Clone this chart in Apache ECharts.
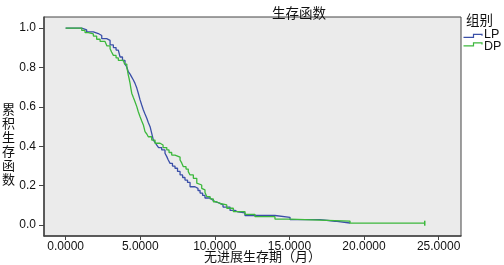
<!DOCTYPE html>
<html><head><meta charset="utf-8">
<script src="https://cdn.jsdelivr.net/npm/echarts@6/dist/echarts.min.js"></script>
<style>html,body{margin:0;padding:0;background:#fff}#c{width:504px;height:265px}</style>
</head><body><div id="c"></div>
<script>
// LP group: [time (months), cumulative survival]
const lpTimes = [0,1.08,1.41,1.86,2.19,2.42,2.75,2.98,3.20,3.38,3.53,3.65,3.81,3.98,4.10,4.20,4.32,4.43,4.54,4.65,4.77,4.87,4.99,5.10,5.21,5.32,5.44,5.54,5.66,5.77,5.88,5.99,6.11,6.23,6.44,6.66,6.78,6.88,7.00,7.16,7.33,7.50,7.67,7.84,8.00,8.17,8.34,8.67,8.87,9.01,9.18,9.34,9.68,9.85,10.01,10.28,10.55,11.02,11.35,11.55,12.02,14.03,15.04,17.05,18.06,19.06];
const lpSurv  = [1,0.991,0.980,0.972,0.962,0.946,0.937,0.914,0.901,0.888,0.878,0.853,0.835,0.817,0.802,0.778,0.766,0.751,0.736,0.719,0.695,0.669,0.635,0.609,0.584,0.563,0.542,0.520,0.499,0.465,0.431,0.419,0.406,0.393,0.381,0.364,0.347,0.330,0.313,0.299,0.288,0.272,0.254,0.241,0.228,0.216,0.194,0.186,0.175,0.162,0.150,0.137,0.127,0.119,0.112,0.102,0.091,0.074,0.066,0.061,0.048,0.039,0.027,0.019,0.010,0.010];
// DP group
const dpTimes = [0,1.08,1.30,1.52,1.86,2.08,2.31,2.64,2.77,2.98,3.08,3.20,3.38,3.53,3.87,3.95,4.10,4.15,4.20,4.25,4.32,4.37,4.43,4.54,4.65,4.77,4.87,4.99,5.10,5.21,5.32,5.44,5.54,5.77,5.99,6.33,6.53,6.78,6.93,7.11,7.33,7.67,7.78,7.89,8.07,8.22,8.34,8.56,8.79,8.89,9.12,9.23,9.34,9.46,9.68,9.90,10.11,10.35,10.80,11.24,12.02,12.69,14.03,15.04,19.06,24.07];
const dpSurv  = [1,0.988,0.977,0.970,0.959,0.943,0.932,0.924,0.909,0.895,0.878,0.861,0.848,0.836,0.830,0.817,0.799,0.782,0.761,0.745,0.719,0.695,0.669,0.647,0.626,0.601,0.575,0.550,0.528,0.508,0.474,0.462,0.448,0.431,0.415,0.406,0.393,0.381,0.368,0.355,0.345,0.330,0.315,0.296,0.284,0.271,0.254,0.237,0.212,0.203,0.186,0.178,0.165,0.144,0.132,0.118,0.109,0.102,0.085,0.068,0.054,0.042,0.030,0.020,0.009,0.009];
const groupNames = ['LP','DP'];
const groupColors = ['#3a4fa8','#3cb83c'];
const xTicks = [0,5,10,15,20,25];
const yTicks = [0,0.2,0.4,0.6,0.8,1.0];

const cjk = '"Noto Sans CJK SC", sans-serif';
const lat = '"Liberation Sans", Arial, sans-serif';
function pts(t, s, censorLast) {
  return t.map((x, i) => {
    if (censorLast && i === t.length - 1) {
      return {value: [x, s[i]], symbol: 'rect', symbolSize: [1.5, 5]};
    }
    return [x, s[i]];
  });
}
const legendGraphics = [];
groupNames.forEach((n, i) => {
  const y0 = 37.3 + i * 8.6;
  legendGraphics.push({type: 'polyline', silent: true,
    shape: {points: [[463.5, y0], [473.5, y0], [473.5, y0 - 3], [482, y0 - 3], [482, y0 - 1.5]]},
    style: {stroke: groupColors[i], lineWidth: 1.2, fill: null}});
  legendGraphics.push({type: 'text', left: 484, top: 28.5 + i * 11.2,
    style: {text: n, fontFamily: lat, fontSize: 12.5, fill: '#111'}});
});
const chart = echarts.init(document.getElementById('c'), null, {renderer: 'canvas'});
chart.setOption({
  animation: false,
  backgroundColor: '#fff',
  title: {text: '生存函数', left: 267, top: 1, textStyle: {fontFamily: cjk, fontSize: 13.5, fontWeight: 'normal', color: '#111'}},
  grid: {left: 44, top: 17, right: 43, bottom: 29, show: true, backgroundColor: '#ebebeb', borderColor: '#444', borderWidth: 1},
  xAxis: {
    type: 'value', min: -1.45, max: 26.5,
    axisLine: {show: true, onZero: false, lineStyle: {color: '#444', width: 1.5}},
    axisTick: {show: true, length: 4, customValues: xTicks, lineStyle: {color: '#444'}},
    axisLabel: {customValues: xTicks, formatter: v => v.toFixed(4), fontFamily: lat, fontSize: 12, color: '#111', margin: 5},
    splitLine: {show: false}
  },
  yAxis: {
    type: 'value', min: -0.056, max: 1.056,
    axisLine: {show: true, onZero: false, lineStyle: {color: '#444', width: 1.5}},
    axisTick: {show: true, length: 5, customValues: yTicks, lineStyle: {color: '#444'}},
    axisLabel: {customValues: yTicks, formatter: v => v.toFixed(1), fontFamily: lat, fontSize: 12, color: '#111', margin: 8},
    splitLine: {show: false}
  },
  graphic: [
    {type: 'text', left: 2, top: 102, style: {text: '累\n积\n生\n存\n函\n数', fontFamily: cjk, fontSize: 13, lineHeight: 14, fill: '#111'}},
    {type: 'text', left: 204, top: 250, style: {text: '无进展生存期（月）', fontFamily: cjk, fontSize: 13, fill: '#111'}},
    {type: 'text', left: 466, top: 13, style: {text: '组别', fontFamily: cjk, fontSize: 13.5, fill: '#111'}}
  ].concat(legendGraphics),
  series: [
    {name: 'LP', type: 'line', step: 'end', symbol: 'none', showSymbol: true, data: pts(lpTimes, lpSurv, false),
     lineStyle: {color: groupColors[0], width: 1.3}, itemStyle: {color: groupColors[0]}, z: 2},
    {name: 'DP', type: 'line', step: 'end', symbol: 'none', showSymbol: true, data: pts(dpTimes, dpSurv, true),
     lineStyle: {color: groupColors[1], width: 1.3}, itemStyle: {color: groupColors[1]}, z: 3}
  ]
});
</script></body></html>
